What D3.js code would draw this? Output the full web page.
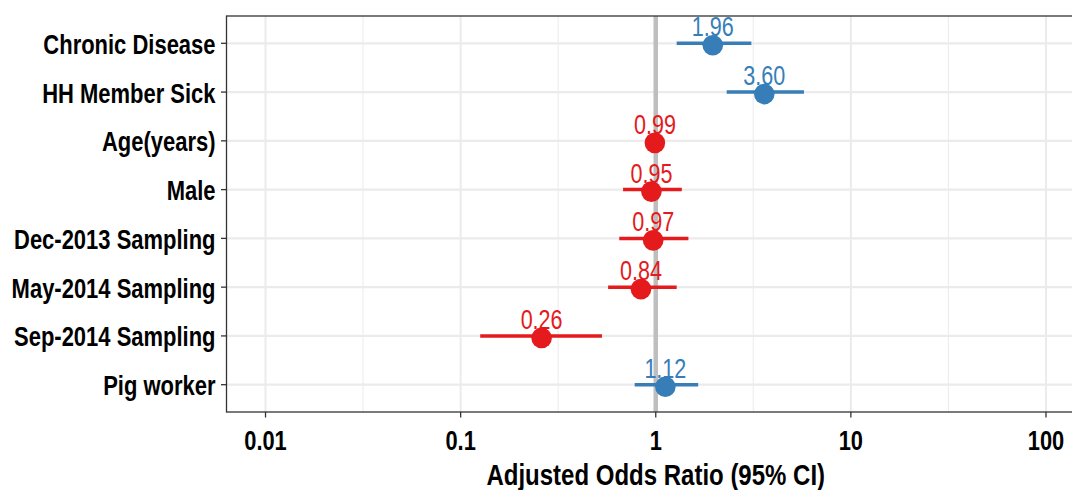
<!DOCTYPE html>
<html>
<head>
<meta charset="utf-8">
<script src="https://cdn.jsdelivr.net/npm/d3@7"></script>
<style>
  html, body { margin: 0; padding: 0; background: #fff; }
  svg { display: block; }
  text { font-family: "Liberation Sans", Arial, Helvetica, sans-serif; }
</style>
</head>
<body>
<svg id="chart" width="1072" height="490"></svg>
<script>
// Predictors, top to bottom
const predictors = [
  "Chronic Disease", "HH Member Sick", "Age(years)", "Male",
  "Dec-2013 Sampling", "May-2014 Sampling", "Sep-2014 Sampling", "Pig worker"
];
// Adjusted odds ratios and 95% confidence limits
const oddsRatio = [1.96, 3.60, 0.99, 0.95, 0.97, 0.84, 0.26, 1.12];
const ciLower   = [1.28, 2.31, 0.98, 0.68, 0.65, 0.57, 0.126, 0.78];
const ciUpper   = [3.09, 5.75, 1.00, 1.36, 1.47, 1.28, 0.53, 1.65];
// Axis ticks
const xTicks = [0.01, 0.1, 1, 10, 100];
const xMinor = [0.0316, 0.316, 3.16, 31.6];
const xTickLabels = ["0.01", "0.1", "1", "10", "100"];

const rows = predictors.map((p, i) => ({
  name: p, or: oddsRatio[i], lo: ciLower[i], hi: ciUpper[i]
}));

const svg = d3.select("#chart");
const panel = { left: 226.5, right: 1085, top: 16, bottom: 412 };
const squeeze = 0.78;      // narrow lettering
const colUp = "#377EB8", colDown = "#E41A1C";
const colour = d => d.or > 1 ? colUp : colDown;

const x = d3.scaleLog()
  .domain([Math.pow(10, -2.2), Math.pow(10, 2.2)])
  .range([panel.left, panel.right]);
const y = d3.scalePoint()
  .domain(predictors)
  .range([panel.top, panel.bottom])
  .padding(0.56);

svg.append("clipPath").attr("id", "pclip")
  .append("rect")
  .attr("x", panel.left).attr("y", panel.top)
  .attr("width", panel.right - panel.left).attr("height", panel.bottom - panel.top);

const plot = svg.append("g").attr("clip-path", "url(#pclip)");

// grid
plot.selectAll("line.minor").data(xMinor).join("line")
  .attr("x1", d => x(d)).attr("x2", d => x(d))
  .attr("y1", panel.top).attr("y2", panel.bottom)
  .attr("stroke", "#ebebeb").attr("stroke-width", 1);
plot.selectAll("line.vmajor").data(xTicks).join("line")
  .attr("x1", d => x(d)).attr("x2", d => x(d))
  .attr("y1", panel.top).attr("y2", panel.bottom)
  .attr("stroke", "#ebebeb").attr("stroke-width", 2);
plot.selectAll("line.hmajor").data(predictors).join("line")
  .attr("x1", panel.left).attr("x2", panel.right)
  .attr("y1", d => y(d)).attr("y2", d => y(d))
  .attr("stroke", "#ebebeb").attr("stroke-width", 2.2);

// reference line at OR = 1
plot.append("line")
  .attr("x1", x(1)).attr("x2", x(1))
  .attr("y1", panel.top).attr("y2", panel.bottom)
  .attr("stroke", "#bebebe").attr("stroke-width", 4.5);

// confidence intervals
plot.selectAll("line.ci").data(rows).join("line")
  .attr("x1", d => x(d.lo)).attr("x2", d => x(d.hi))
  .attr("y1", d => y(d.name)).attr("y2", d => y(d.name))
  .attr("stroke", colour).attr("stroke-width", 3.5);

// value labels
plot.selectAll("text.val").data(rows).join("text")
  .attr("transform", d => `translate(${x(d.or)},${y(d.name) - 7}) scale(0.77,1)`)
  .attr("text-anchor", "middle")
  .attr("font-size", 28)
  .attr("fill", colour)
  .text(d => d.or.toFixed(2));

// point estimates
plot.selectAll("circle.pt").data(rows).join("circle")
  .attr("cx", d => x(d.or)).attr("cy", d => y(d.name) + 2)
  .attr("r", 10.3)
  .attr("fill", colour);

// panel border
svg.append("rect")
  .attr("x", panel.left).attr("y", panel.top)
  .attr("width", panel.right - panel.left).attr("height", panel.bottom - panel.top)
  .attr("fill", "none").attr("stroke", "#333").attr("stroke-width", 1.3);

// y axis
const yAxis = svg.append("g");
yAxis.selectAll("line").data(predictors).join("line")
  .attr("x1", panel.left - 5.5).attr("x2", panel.left)
  .attr("y1", d => y(d)).attr("y2", d => y(d))
  .attr("stroke", "#333").attr("stroke-width", 1.3);
yAxis.selectAll("text").data(predictors).join("text")
  .attr("transform", d => `translate(${panel.left - 11},${y(d) + 10.5}) scale(0.785,1)`)
  .attr("text-anchor", "end")
  .attr("font-size", 28).attr("font-weight", "bold").attr("fill", "#000")
  .text(d => d);

// x axis
const xAxis = svg.append("g");
xAxis.selectAll("line").data(xTicks).join("line")
  .attr("x1", d => x(d)).attr("x2", d => x(d))
  .attr("y1", panel.bottom).attr("y2", panel.bottom + 5.5)
  .attr("stroke", "#333").attr("stroke-width", 1.3);
xAxis.selectAll("text").data(xTicks).join("text")
  .attr("transform", (d, i) => `translate(${x(d)},450) scale(${squeeze},1)`)
  .attr("text-anchor", "middle")
  .attr("font-size", 28).attr("font-weight", "bold").attr("fill", "#000")
  .text((d, i) => xTickLabels[i]);

// axis title
svg.append("text")
  .attr("transform", `translate(${(panel.left + panel.right) / 2},484.5) scale(0.8,1)`)
  .attr("text-anchor", "middle")
  .attr("font-size", 30).attr("font-weight", "bold").attr("fill", "#000")
  .text("Adjusted Odds Ratio (95% CI)");
</script>
</body>
</html>
